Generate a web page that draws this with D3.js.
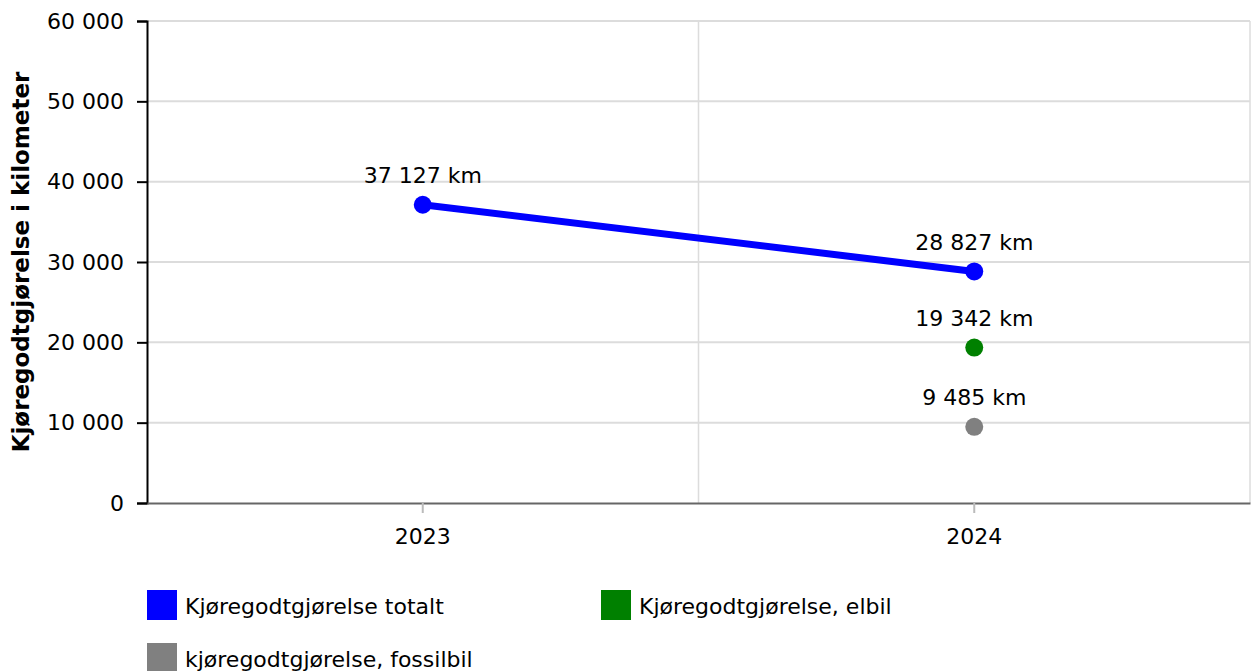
<!DOCTYPE html>
<html><head><meta charset="utf-8">
<script src="https://cdn.jsdelivr.net/npm/d3@7"></script>
<style>body{margin:0;background:#fff}svg{display:block;font-family:"DejaVu Sans",Verdana,sans-serif}</style>
</head><body><svg id="c" width="1254" height="671"></svg>
<script>
const categories = ["2023","2024"];
const totalt = [37127, 28827];
const elbil = [null, 19342];
const fossil = [null, 9485];
const yTicks = [0,10000,20000,30000,40000,50000,60000];
const seriesNames = ["Kjøregodtgjørelse totalt","Kjøregodtgjørelse, elbil","kjøregodtgjørelse, fossilbil"];
const colors = ["#0000ff","#008000","#808080"];

const FS = 22;
const svg = d3.select("#c");
const L=147,R=1250,T=21,B=503;
const x = d3.scaleBand().domain(categories).range([L,R]);
const y = d3.scaleLinear().domain([0,60000]).range([B,T]);
const fmt = v => d3.format(",")(v).replace(/,/g," ");

// grid
svg.append("g").selectAll("line").data(yTicks.slice(1)).join("line")
  .attr("x1",L).attr("x2",R).attr("y1",d=>y(d)).attr("y2",d=>y(d))
  .attr("stroke","#dcdcdc").attr("stroke-width",2);
svg.append("g").selectAll("line").data(categories).join("line")
  .attr("x1",d=>x(d)+x.bandwidth()).attr("x2",d=>x(d)+x.bandwidth())
  .attr("y1",T).attr("y2",B).attr("stroke","#dcdcdc").attr("stroke-width",1.5);

// y axis
const ya = svg.append("g").attr("transform",`translate(${L},0)`)
  .call(d3.axisLeft(y).tickValues(yTicks).tickFormat(fmt).tickSize(10).tickPadding(13));
ya.attr("font-size",FS).attr("font-family","DejaVu Sans");
ya.select(".domain").attr("stroke","#000").attr("stroke-width",2);
ya.selectAll(".tick line").attr("stroke","#000").attr("stroke-width",2);
ya.selectAll("text").attr("fill","#000");

// x axis
const xa = svg.append("g").attr("transform",`translate(0,${B})`)
  .call(d3.axisBottom(x).tickSize(10).tickPadding(15).tickSizeOuter(0));
xa.attr("font-size",FS).attr("font-family","DejaVu Sans");
xa.select(".domain").attr("stroke","#666").attr("stroke-width",2);
xa.selectAll(".tick line").attr("stroke","#bbb").attr("stroke-width",2);
xa.selectAll("text").attr("fill","#000");

// axis title
svg.append("text").attr("transform",`translate(29,${(T+B)/2}) rotate(-90)`)
  .attr("text-anchor","middle").attr("font-size",23).attr("font-weight","bold")
  .text("Kjøregodtgjørelse i kilometer");

const cx = c => x(c)+x.bandwidth()/2;
const all = [totalt, elbil, fossil];
// line
const pts = categories.map((c,i)=>({c,v:totalt[i]})).filter(d=>d.v!=null);
svg.append("path").datum(pts)
  .attr("d",d3.line().x(d=>cx(d.c)).y(d=>y(d.v)))
  .attr("fill","none").attr("stroke",colors[0]).attr("stroke-width",7);

all.forEach((s,si)=>{
  const d = categories.map((c,i)=>({c,v:s[i]})).filter(p=>p.v!=null);
  svg.append("g").selectAll("circle").data(d).join("circle")
    .attr("cx",p=>cx(p.c)).attr("cy",p=>y(p.v)).attr("r",9).attr("fill",colors[si]);
  svg.append("g").selectAll("text").data(d).join("text")
    .attr("x",p=>cx(p.c)).attr("y",p=>y(p.v)-21.5).attr("text-anchor","middle")
    .attr("font-size",FS).attr("fill","#000").text(p=>fmt(p.v)+" km");
});

// legend
const lg = [{i:0,x:147,y:590},{i:1,x:601,y:590},{i:2,x:147,y:643}];
lg.forEach(l=>{
  svg.append("rect").attr("x",l.x).attr("y",l.y).attr("width",30).attr("height",30).attr("fill",colors[l.i]);
  svg.append("text").attr("x",l.x+38).attr("y",l.y+24).attr("font-size",FS).text(seriesNames[l.i]);
});
</script></body></html>
